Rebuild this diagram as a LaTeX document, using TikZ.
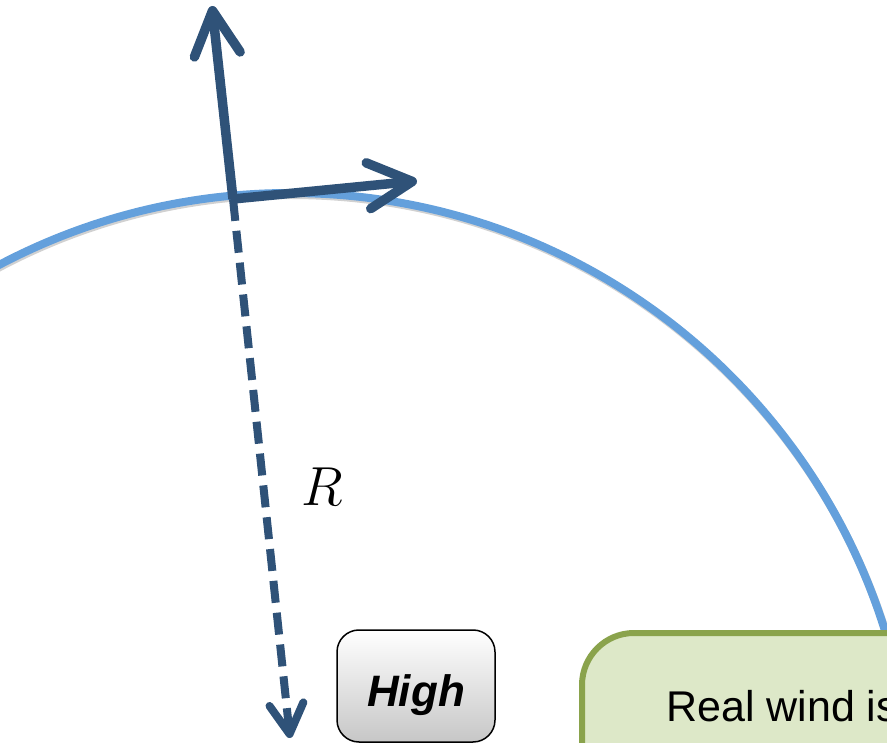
\RequirePackage{fix-cm}
\documentclass[tikz,border=0pt]{standalone}
\usepackage{fontspec}
\setsansfont{Liberation Sans}
\usetikzlibrary{arrows.meta,positioning,calc}

\definecolor{windblue}{RGB}{47,82,120}
\definecolor{rimblue}{RGB}{100,160,220}
\definecolor{noteedge}{RGB}{138,163,76}
\definecolor{notefill}{RGB}{221,232,200}

\begin{document}
\begin{tikzpicture}[x=1pt,y=-1pt,
    rim/.style={draw=rimblue, line width=8pt},
    rimshade/.style={draw=black, opacity=0.18, line width=8pt},
    vec/.style={draw=windblue, line width=9.5pt, -{Straight Barb[length=44pt,width=46pt,round]}},
    radial/.style={draw=windblue, line width=8pt, dash pattern=on 22pt off 10pt, -{Straight Barb[length=30pt,width=34pt,round]}},
    tag/.style={draw=black, line width=1.5pt, rounded corners=22pt, top color=white, bottom color=black!22, minimum width=158pt, minimum height=112pt, text height=40pt, text depth=0pt, font=\sffamily\bfseries\itshape\fontsize{44}{50}\selectfont},
    note/.style={draw=noteedge, fill=notefill, line width=6pt, rounded corners=52pt, minimum width=500pt, minimum height=300pt, anchor=north west},
    notetext/.style={font=\sffamily\fontsize{43}{50}\selectfont, anchor=base west, inner sep=0pt}
]
\useasboundingbox (0,0) rectangle (887,743);
\clip (0,0) rectangle (887,743);

% streamline (part of a circle)
\coordinate (ctr) at (290,816);
\coordinate (ctrshade) at (291,818);
\draw[rimshade] (ctrshade) circle[radius=623];
\draw[rim] (ctr) circle[radius=623];

% point on the streamline and its vectors
\coordinate (base) at (233,199);
\coordinate (up) at (212,6);
\coordinate (east) at (417,181);
\coordinate (down) at (290,738);

\draw[radial] (base) -- (down);
\draw[vec] (base) -- (up);
\draw[vec] (base) -- (east);

\node[font=\fontsize{55}{60}\selectfont] (rlabel) at (322,487) {$R$};

% pressure tag and note
\node[tag] (high) at (416,686) {High};
\node[note] (box) at (579,630) {};
\node[notetext] (notetxt) at (666,721) {Real wind is};

\end{tikzpicture}
\end{document}
